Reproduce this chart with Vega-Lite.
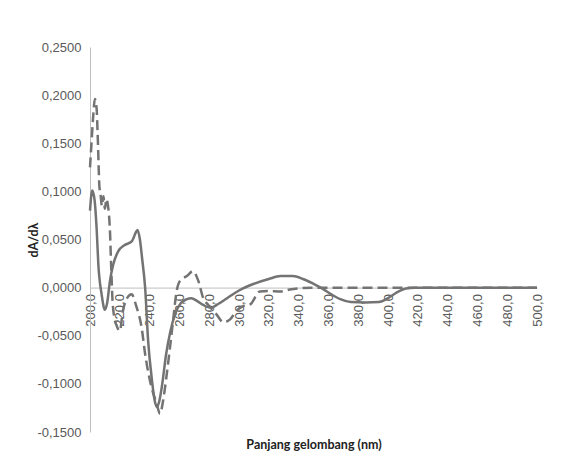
{
  "$schema": "https://vega.github.io/schema/vega-lite/v6.json",
  "width": 447,
  "height": 385,
  "autosize": "none",
  "padding": {"left": 90, "top": 47, "right": 28, "bottom": 35},
  "background": "white",
  "config": {"view": {"stroke": null}},
  "datasets": {
    "solid": [
      {"wl": 200, "v": 0.080}, {"wl": 201.5, "v": 0.101}, {"wl": 203, "v": 0.092}, {"wl": 204.5, "v": 0.060},
      {"wl": 205.6, "v": 0.024}, {"wl": 207.8, "v": -0.007}, {"wl": 210, "v": -0.023}, {"wl": 211.5, "v": -0.016},
      {"wl": 213.4, "v": 0.007}, {"wl": 215.6, "v": 0.024}, {"wl": 219, "v": 0.038}, {"wl": 223, "v": 0.044},
      {"wl": 228, "v": 0.048}, {"wl": 231, "v": 0.058}, {"wl": 232, "v": 0.060}, {"wl": 233.5, "v": 0.050},
      {"wl": 235, "v": 0.030}, {"wl": 237, "v": 0.000}, {"wl": 239, "v": -0.055}, {"wl": 241.5, "v": -0.095},
      {"wl": 243.5, "v": -0.118}, {"wl": 245, "v": -0.124}, {"wl": 246.5, "v": -0.118}, {"wl": 248.5, "v": -0.100},
      {"wl": 251, "v": -0.070}, {"wl": 254, "v": -0.045}, {"wl": 257, "v": -0.028}, {"wl": 261, "v": -0.016},
      {"wl": 265, "v": -0.012}, {"wl": 268, "v": -0.011}, {"wl": 272, "v": -0.014}, {"wl": 276, "v": -0.018},
      {"wl": 281, "v": -0.021}, {"wl": 286, "v": -0.017}, {"wl": 292, "v": -0.011}, {"wl": 300, "v": -0.003},
      {"wl": 310, "v": 0.004}, {"wl": 320, "v": 0.009}, {"wl": 328, "v": 0.012}, {"wl": 336, "v": 0.012},
      {"wl": 343, "v": 0.009}, {"wl": 350, "v": 0.004}, {"wl": 356, "v": -0.001}, {"wl": 362, "v": -0.007},
      {"wl": 368, "v": -0.012}, {"wl": 375, "v": -0.015}, {"wl": 385, "v": -0.0155}, {"wl": 394, "v": -0.015},
      {"wl": 400, "v": -0.011}, {"wl": 406, "v": -0.005}, {"wl": 412, "v": -0.001}, {"wl": 418, "v": 0.000},
      {"wl": 430, "v": 0.000}, {"wl": 450, "v": 0.000}, {"wl": 475, "v": 0.000}, {"wl": 500, "v": 0.000}
    ],
    "dashed": [
      {"wl": 200, "v": 0.125}, {"wl": 201, "v": 0.150}, {"wl": 202, "v": 0.175}, {"wl": 203.3, "v": 0.196},
      {"wl": 204.5, "v": 0.185}, {"wl": 205, "v": 0.165}, {"wl": 205.4, "v": 0.147}, {"wl": 205.8, "v": 0.126},
      {"wl": 206.3, "v": 0.105}, {"wl": 207, "v": 0.098}, {"wl": 208, "v": 0.085}, {"wl": 209, "v": 0.095},
      {"wl": 210, "v": 0.082}, {"wl": 211, "v": 0.092}, {"wl": 212, "v": 0.086}, {"wl": 213, "v": 0.070},
      {"wl": 213.5, "v": 0.055}, {"wl": 214, "v": 0.031}, {"wl": 214.5, "v": 0.010}, {"wl": 215, "v": -0.010},
      {"wl": 216, "v": -0.028}, {"wl": 218, "v": -0.040}, {"wl": 220, "v": -0.045}, {"wl": 222, "v": -0.025},
      {"wl": 224.5, "v": -0.012}, {"wl": 228, "v": -0.007}, {"wl": 231, "v": -0.019}, {"wl": 234.7, "v": -0.042},
      {"wl": 237, "v": -0.069}, {"wl": 240.3, "v": -0.097}, {"wl": 244.8, "v": -0.121}, {"wl": 247, "v": -0.131},
      {"wl": 249, "v": -0.118}, {"wl": 251.5, "v": -0.090}, {"wl": 253.7, "v": -0.062}, {"wl": 256, "v": -0.031},
      {"wl": 258, "v": -0.005}, {"wl": 260.4, "v": 0.007}, {"wl": 265, "v": 0.012}, {"wl": 269, "v": 0.017},
      {"wl": 272.7, "v": 0.007}, {"wl": 276, "v": -0.011}, {"wl": 279.4, "v": -0.018}, {"wl": 285, "v": -0.028},
      {"wl": 289.5, "v": -0.036}, {"wl": 294, "v": -0.033}, {"wl": 298.4, "v": -0.024}, {"wl": 303, "v": -0.019},
      {"wl": 307.4, "v": -0.0175}, {"wl": 314, "v": -0.004}, {"wl": 320.8, "v": -0.0036}, {"wl": 327.5, "v": -0.004},
      {"wl": 334, "v": -0.002}, {"wl": 350, "v": 0.000}, {"wl": 380, "v": 0.000}, {"wl": 420, "v": 0.000},
      {"wl": 460, "v": 0.000}, {"wl": 500, "v": 0.000}
    ]
  },
  "encoding": {
    "x": {
      "field": "wl", "type": "quantitative",
      "scale": {"domain": [200, 500], "nice": false},
      "axis": {
        "title": "Panjang gelombang (nm)",
        "titleFont": "Lato", "titleFontWeight": "bold", "titleFontSize": 12.5, "titleColor": "#222222",
        "titleY": 151, "titleBaseline": "top",
        "offset": -144.4,
        "values": [200,220,240,260,280,300,320,340,360,380,400,420,440,460,480,500],
        "labelExpr": "replace(format(datum.value, '.1f'), '.', ',')",
        "labelAngle": -90, "labelFont": "Liberation Sans", "labelFontSize": 13, "labelColor": "#595959",
        "labelPadding": 6, "ticks": false, "grid": false,
        "domainColor": "#bfbfbf", "domainWidth": 1
      }
    },
    "y": {
      "field": "v", "type": "quantitative",
      "scale": {"domain": [-0.15, 0.25], "nice": false, "zero": false},
      "axis": {
        "title": "dA/dλ",
        "titleFont": "Lato", "titleFontWeight": "bold", "titleFontSize": 12.5, "titleColor": "#222222",
        "titleX": -57, "titleBaseline": "middle",
        "values": [-0.15,-0.1,-0.05,0,0.05,0.1,0.15,0.2,0.25],
        "labelExpr": "(datum.value < -0.00001 ? '-' : '') + replace(format(abs(datum.value), '.4f'), '.', ',')",
        "labelFont": "Liberation Sans", "labelFontSize": 13, "labelColor": "#595959",
        "labelPadding": 9, "ticks": false, "grid": false,
        "domainColor": "#bfbfbf", "domainWidth": 1
      }
    }
  },
  "layer": [
    {
      "data": {"name": "solid"},
      "mark": {"type": "line", "interpolate": "monotone", "color": "#737373", "strokeWidth": 2.5}
    },
    {
      "data": {"name": "dashed"},
      "mark": {"type": "line", "interpolate": "monotone", "color": "#737373", "strokeWidth": 2.5, "strokeDash": [10, 5]}
    }
  ]
}
